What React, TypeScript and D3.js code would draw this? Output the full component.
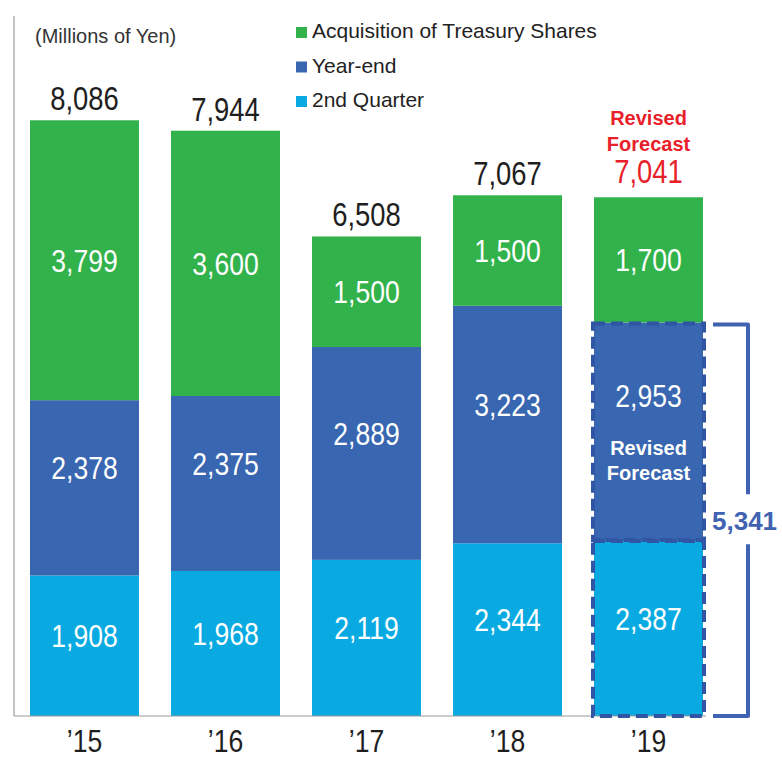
import React, { useEffect, useRef } from "react";
import * as d3 from "d3";

const years = ["’15", "’16", "’17", "’18", "’19"];
const secondQuarter = [1908, 1968, 2119, 2344, 2387];
const yearEnd = [2378, 2375, 2889, 3223, 2953];
const treasury = [3799, 3600, 1500, 1500, 1700];
const totals = [8086, 7944, 6508, 7067, 7041];
const forecastSum = 5341;
const seriesNames = ["Acquisition of Treasury Shares", "Year-end", "2nd Quarter"];

const colors = { treasury: "#32b24b", yearEnd: "#3866b0", q2: "#08aae1" };
const sans = "'Liberation Sans', Arial, sans-serif";
// Arial Narrow is roughly Arial squeezed horizontally
const squeeze = 0.83;

export default function App() {
  const ref = useRef<HTMLDivElement>(null);

  useEffect(() => {
    document.body.style.margin = "0";
    const root = d3.select(ref.current);
    root.selectAll("*").remove();

    const width = 782;
    const height = 760;
    const baseY = 716;
    const forecastIdx = years.length - 1;

    const svg = root
      .append("svg")
      .attr("width", width)
      .attr("height", height)
      .style("display", "block");

    const x = d3.scaleBand().domain(years).range([14, 719]).paddingInner(0.227).paddingOuter(0.1135);
    const y = d3.scaleLinear().domain([0, 9500]).range([baseY, 16]);

    const rows = years.map((yr, i) => ({ yr, q2: secondQuarter[i], ye: yearEnd[i], tr: treasury[i] }));
    const stack = d3.stack<any>().keys(["q2", "ye", "tr"])(rows);
    const fills = [colors.q2, colors.yearEnd, colors.treasury];
    const fmt = d3.format(",");

    // narrow text helper
    const narrowText = (g: any, cx: number, cy: number, txt: string, size: number, fill: string) =>
      g.append("text")
        .attr("transform", `translate(${cx},${cy}) scale(${squeeze},1)`)
        .attr("text-anchor", "middle")
        .attr("fill", fill)
        .style("font-family", sans)
        .style("font-size", size + "px")
        .text(txt);

    // y axis line
    svg.append("line").attr("x1", 14).attr("x2", 14).attr("y1", 16).attr("y2", baseY)
      .attr("stroke", "#9a9a9a").attr("stroke-width", 1.2);

    // bars
    stack.forEach((layer, li) => {
      svg.append("g")
        .selectAll("rect")
        .data(layer)
        .enter()
        .append("rect")
        .attr("x", (d: any) => x(d.data.yr)!)
        .attr("y", (d) => y(d[1]))
        .attr("width", x.bandwidth())
        .attr("height", (d) => y(d[0]) - y(d[1]))
        .attr("fill", fills[li]);
    });

    svg.append("line").attr("x1", 14).attr("x2", 706).attr("y1", baseY).attr("y2", baseY)
      .attr("stroke", "#9a9a9a").attr("stroke-width", 1.2);

    // segment labels
    const shifts = [-10, -20, 0];
    const labels = svg.append("g");
    stack.forEach((layer, li) => {
      layer.forEach((d: any, i: number) => {
        const mid = (y(d[0]) + y(d[1])) / 2;
        const s = li === 1 && i === forecastIdx ? -36 : shifts[li];
        narrowText(labels, x(d.data.yr)! + x.bandwidth() / 2, mid + s + 11.5, fmt(d[1] - d[0]), 32, "white");
      });
    });

    // revised forecast text inside year-end '19
    const fx = x(years[forecastIdx])! + x.bandwidth() / 2;
    const yeMid = (y(stack[1][forecastIdx][0]) + y(stack[1][forecastIdx][1])) / 2;
    ["Revised", "Forecast"].forEach((t, k) => {
      svg.append("text").attr("x", fx).attr("y", yeMid + 24 + k * 25)
        .attr("text-anchor", "middle").attr("fill", "white")
        .style("font-family", sans).style("font-weight", "bold").style("font-size", "20px")
        .text(t);
    });

    // totals
    const totalsG = svg.append("g");
    totals.forEach((t, i) => {
      const top = y(stack[2][i][1]);
      narrowText(totalsG, x(years[i])! + x.bandwidth() / 2, top - (i === forecastIdx ? 14 : 10), fmt(t), 33,
        i === forecastIdx ? "#e8202a" : "#1e1e1e");
    });

    const topF = y(stack[2][forecastIdx][1]);
    ["Revised", "Forecast"].forEach((t, k) => {
      svg.append("text").attr("x", fx).attr("y", topF - 72 + k * 26)
        .attr("text-anchor", "middle").attr("fill", "#e8202a")
        .style("font-family", sans).style("font-weight", "bold").style("font-size", "20px")
        .text(t);
    });

    // dashed outlines for '19 forecast segments
    [0, 1].forEach((li) => {
      const d = stack[li][forecastIdx];
      svg.append("rect")
        .attr("x", x(years[forecastIdx])! - 1)
        .attr("y", y(d[1]) + 1)
        .attr("width", x.bandwidth() + 2)
        .attr("height", y(d[0]) - y(d[1]) - 1)
        .attr("fill", "none")
        .attr("stroke", "#2f55a4")
        .attr("stroke-width", 4)
        .attr("stroke-dasharray", "12 6");
    });

    // bracket
    const bTop = y(forecastSum);
    const bx = 748;
    const bc = "#3f63b0";
    const midB = (bTop + baseY) / 2;
    svg.append("path")
      .attr("d", `M713,${bTop + 2} H${bx} V${midB - 25}`)
      .attr("fill", "none").attr("stroke", bc).attr("stroke-width", 4).attr("stroke-linejoin", "round");
    svg.append("path")
      .attr("d", `M${bx},${midB + 25} V${baseY} H713`)
      .attr("fill", "none").attr("stroke", bc).attr("stroke-width", 4).attr("stroke-linejoin", "round");
    svg.append("text").attr("x", 712).attr("y", midB + 11)
      .attr("fill", bc).style("font-family", sans).style("font-weight", "bold").style("font-size", "26px")
      .text(fmt(forecastSum));

    // x labels
    const xl = svg.append("g");
    years.forEach((yr) => {
      narrowText(xl, x(yr)! + x.bandwidth() / 2, 752, yr, 32, "#1e1e1e");
    });

    // unit
    svg.append("text").attr("x", 35).attr("y", 43)
      .attr("fill", "#333").style("font-family", sans).style("font-size", "20px")
      .text("(Millions of Yen)");

    // legend
    const legendColors = [colors.treasury, colors.yearEnd, colors.q2];
    const legend = svg.append("g");
    seriesNames.forEach((name, i) => {
      const by = 38 + i * 34.5;
      legend.append("rect").attr("x", 296).attr("y", by - 11).attr("width", 11).attr("height", 11)
        .attr("fill", legendColors[i]);
      legend.append("text").attr("x", 312).attr("y", by)
        .attr("fill", "#222").style("font-family", sans).style("font-size", "21px")
        .text(name);
    });
  }, []);

  return <div ref={ref} />;
}
